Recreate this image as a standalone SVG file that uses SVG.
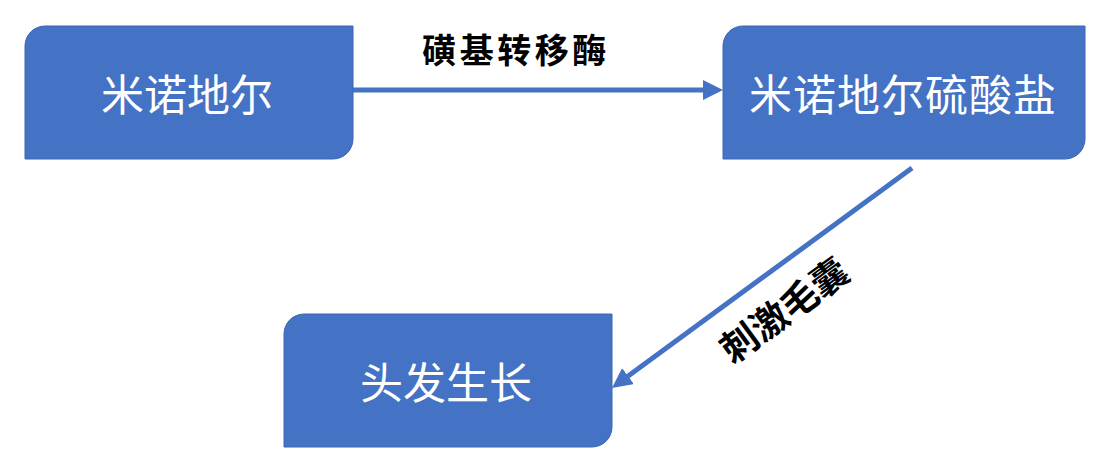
<svg xmlns="http://www.w3.org/2000/svg" width="1108" height="467" viewBox="0 0 1108 467">
<defs>
<style>
.box{fill:#4472C4;stroke:#3c66b1;stroke-width:1}
.nt{fill:#ffffff;font-family:"Noto Sans CJK SC","Noto Sans",sans-serif;font-size:43px;text-anchor:middle;dominant-baseline:central}
.lb{fill:#000000;font-family:"Noto Sans CJK SC","Noto Sans",sans-serif;font-weight:bold;text-anchor:middle;dominant-baseline:central}
.edge{stroke:#4472C4;stroke-width:5;fill:none;marker-end:url(#ah)}
</style>
<marker id="ah" markerUnits="userSpaceOnUse" markerWidth="22" markerHeight="22" refX="10" refY="10" orient="auto">
<path d="M0,0 L20,10 L0,20 Z" fill="#4472C4"/>
</marker>
</defs>
<rect width="1108" height="467" fill="#ffffff"/>
<g id="connectors">
<line class="edge" x1="353" y1="90" x2="713" y2="90"/>
<line class="edge" x1="912" y1="168" x2="620" y2="382"/>
<text class="lb" x="516" y="48" font-size="34" letter-spacing="3.5">磺基转移酶</text>
<text class="lb" font-size="37" transform="translate(783,308) rotate(-36)">刺激毛囊</text>
</g>
<g id="node-minoxidil">
<path class="box" d="M45,26 H353 V139 A20,20 0 0 1 333,159 H25 V46 A20,20 0 0 1 45,26 Z"/>
<text class="nt" x="187" y="92">米诺地尔</text>
</g>
<g id="node-sulfate">
<path class="box" d="M743,26 H1085 V139 A20,20 0 0 1 1065,159 H723 V46 A20,20 0 0 1 743,26 Z"/>
<text class="nt" x="903" y="92" letter-spacing="1">米诺地尔硫酸盐</text>
</g>
<g id="node-hair">
<path class="box" d="M304,314 H612 V427 A20,20 0 0 1 592,447 H284 V334 A20,20 0 0 1 304,314 Z"/>
<text class="nt" x="446" y="380">头发生长</text>
</g>
</svg>
